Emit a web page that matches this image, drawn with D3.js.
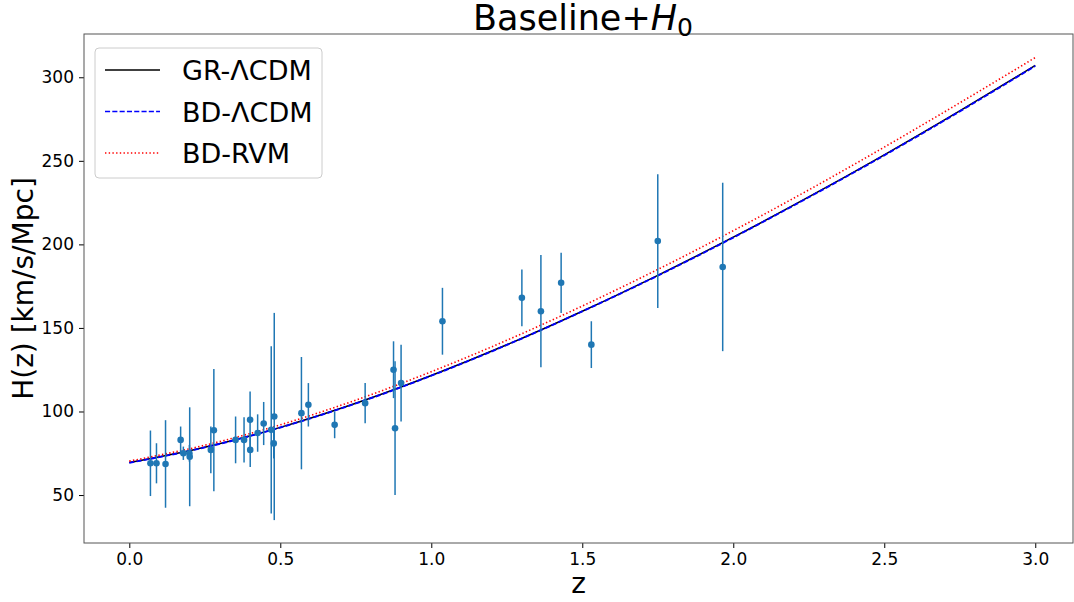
<!DOCTYPE html>
<html>
<head>
<meta charset="utf-8">
<script src="https://cdn.jsdelivr.net/npm/d3@7"></script>
<style>
  body { margin: 0; background: #fff; }
  svg { display: block; font-family: 'DejaVu Sans', sans-serif; }
</style>
</head>
<body>
<svg id="chart" width="1074" height="602"></svg>
<script>
const zData = [0.07, 0.09, 0.12, 0.17, 0.179, 0.199, 0.2, 0.27, 0.28, 0.352, 0.38, 0.4, 0.4004,
  0.425, 0.445, 0.47, 0.4783, 0.48, 0.57, 0.593, 0.68, 0.781, 0.875, 0.88, 0.9, 1.037,
  1.3, 1.363, 1.43, 1.53, 1.75, 1.965];
const hData = [69, 69, 68.6, 83, 75, 75, 72.9, 77, 88.8, 83, 83, 95, 77,
  87.1, 92.8, 89, 80.9, 97, 99, 104, 92, 105, 125, 90, 117, 154,
  168, 160, 177, 140, 202, 186.5];
const hErr = [19.6, 12, 26.2, 8, 4, 5, 29.6, 14, 36.6, 14, 13.5, 17, 10.2,
  11.2, 12.9, 50, 9, 62, 33.6, 13, 8, 12, 17, 40, 23, 20,
  17, 33.6, 18, 14, 40, 50.4];

// model curves sampled along z
const zModel = [0, 0.25, 0.5, 0.75, 1.0, 1.25, 1.5, 1.75, 2.0, 2.25, 2.5, 2.75, 3.0];
const hGR = [69.4, 78.6, 90.5, 104.9, 121.5, 139.9, 160.0, 181.5, 204.3, 228.4, 253.6, 279.9, 307.1];
const hBD = [69.3, 78.5, 90.4, 104.8, 121.4, 139.8, 159.9, 181.3, 204.1, 228.2, 253.3, 279.6, 306.8];
const hRVM = [70.3, 79.8, 92.0, 106.8, 123.8, 142.6, 163.1, 185.0, 208.2, 232.6, 258.2, 284.7, 311.8];

const xTicks = [0, 0.5, 1.0, 1.5, 2.0, 2.5, 3.0];
const yTicks = [50, 100, 150, 200, 250, 300];

const legendItems = [
  { label: 'GR-ΛCDM', color: '#000000', dash: null },
  { label: 'BD-ΛCDM', color: '#0000ff', dash: '5.1,2.2' },
  { label: 'BD-RVM', color: '#ff0000', dash: '1.4,2.3' },
];

const LEFT = 84, RIGHT = 1073, TOP = 34, BOTTOM = 543;
const DOT_COLOR = '#1f77b4';

const svg = d3.select('#chart');

const x = d3.scaleLinear().domain([-0.15, 3.125]).range([LEFT, RIGHT]);
const y = d3.scaleLinear().domain([21.3, 325.9]).range([BOTTOM, TOP]);

// curves
const curves = [
  { values: hGR, color: '#000000', dash: null, width: 1.5 },
  { values: hBD, color: '#0000ff', dash: '5.1,2.2', width: 1.9 },
  { values: hRVM, color: '#ff0000', dash: '1.4,2.3', width: 1.6 },
];
const line = d3.line()
  .x((d) => x(d[0]))
  .y((d) => y(d[1]))
  .curve(d3.curveMonotoneX);

const curveGroup = svg.append('g').attr('class', 'curves');
curves.forEach((c) => {
  curveGroup.append('path')
    .attr('d', line(zModel.map((z, i) => [z, c.values[i]])))
    .attr('fill', 'none')
    .attr('stroke', c.color)
    .attr('stroke-width', c.width)
    .attr('stroke-dasharray', c.dash);
});

// error bars + points
const dataGroup = svg.append('g').attr('class', 'data');
zData.forEach((z, i) => {
  dataGroup.append('line')
    .attr('x1', x(z))
    .attr('x2', x(z))
    .attr('y1', y(hData[i] - hErr[i]))
    .attr('y2', y(hData[i] + hErr[i]))
    .attr('stroke', DOT_COLOR)
    .attr('stroke-width', 1.5);
});
zData.forEach((z, i) => {
  dataGroup.append('circle')
    .attr('cx', x(z))
    .attr('cy', y(hData[i]))
    .attr('r', 3.3)
    .attr('fill', DOT_COLOR);
});

// axes
const xAxis = svg.append('g')
  .attr('transform', `translate(0,${BOTTOM})`)
  .call(d3.axisBottom(x).tickValues(xTicks).tickFormat(d3.format('.1f')).tickSize(5).tickPadding(5));
const yAxis = svg.append('g')
  .attr('transform', `translate(${LEFT},0)`)
  .call(d3.axisLeft(y).tickValues(yTicks).tickFormat(d3.format('d')).tickSize(5).tickPadding(5));

[xAxis, yAxis].forEach((ax) => {
  ax.select('.domain').remove();
  ax.selectAll('text')
    .attr('font-size', '17px')
    .attr('font-family', "'DejaVu Sans', sans-serif")
    .attr('fill', '#000');
  ax.selectAll('line').attr('stroke', '#000');
});

// frame
svg.append('rect')
  .attr('x', LEFT)
  .attr('y', TOP)
  .attr('width', RIGHT - LEFT)
  .attr('height', BOTTOM - TOP)
  .attr('fill', 'none')
  .attr('stroke', '#555')
  .attr('stroke-width', 1);

// title
const title = svg.append('text')
  .attr('x', 583)
  .attr('y', 30)
  .attr('text-anchor', 'middle')
  .attr('font-size', '35px')
  .attr('fill', '#000');
title.append('tspan').text('Baseline+');
title.append('tspan').attr('font-style', 'italic').text('H');
title.append('tspan').attr('font-size', '25px').attr('dy', 6).text('0');

// axis labels
svg.append('text')
  .attr('x', (LEFT + RIGHT) / 2)
  .attr('y', 593)
  .attr('text-anchor', 'middle')
  .attr('font-size', '28px')
  .attr('fill', '#000')
  .text('z');

svg.append('text')
  .attr('transform', `translate(33,${(TOP + BOTTOM) / 2}) rotate(-90)`)
  .attr('text-anchor', 'middle')
  .attr('font-size', '28px')
  .attr('fill', '#000')
  .text('H(z) [km/s/Mpc]');

// legend
const legend = svg.append('g').attr('class', 'legend');
legend.append('rect')
  .attr('x', 95)
  .attr('y', 48)
  .attr('width', 227)
  .attr('height', 130)
  .attr('rx', 4)
  .attr('fill', '#fff')
  .attr('fill-opacity', 0.8)
  .attr('stroke', '#ccc');

legendItems.forEach((item, i) => {
  const cy = 70 + i * 41.5;
  legend.append('line')
    .attr('x1', 105)
    .attr('x2', 160)
    .attr('y1', cy)
    .attr('y2', cy)
    .attr('stroke', item.color)
    .attr('stroke-width', 1.4)
    .attr('stroke-dasharray', item.dash);
  legend.append('text')
    .attr('x', 182)
    .attr('y', cy + 10)
    .attr('font-size', '27px')
    .attr('fill', '#000')
    .text(item.label);
});
</script>
</body>
</html>
